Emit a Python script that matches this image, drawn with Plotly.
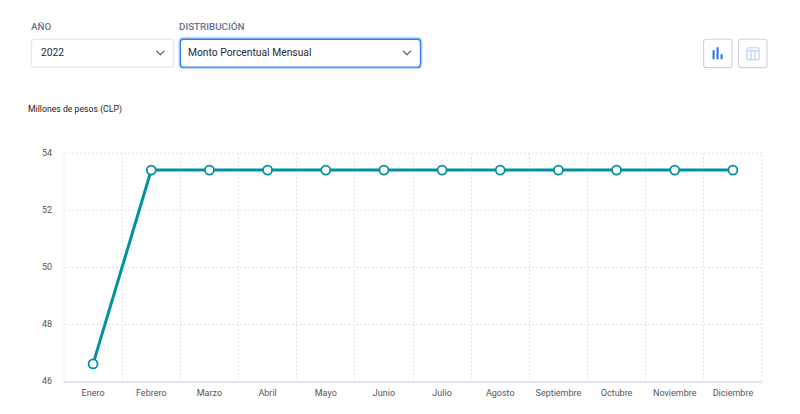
import plotly.graph_objects as go

months = ["Enero", "Febrero", "Marzo", "Abril", "Mayo", "Junio", "Julio",
          "Agosto", "Septiembre", "Octubre", "Noviembre", "Diciembre"]
values = [46.6, 53.4, 53.4, 53.4, 53.4, 53.4, 53.4, 53.4, 53.4, 53.4, 53.4, 53.4]
y_ticks = [46, 48, 50, 52, 54]

W, H = 800, 414
L, R, T, B = 63.5, 762.5, 153, 381.5
FONT = "Roboto, sans-serif"
GRID = "#e3e4e8"


def px(x):
    return (x - L) / (R - L)


def py(y):
    return (B - y) / (B - T)


def rrect(x0, y0, x1, y1, r, line, width=1, fill="rgba(0,0,0,0)"):
    a, b, c, d = px(x0), px(x1), py(y0), py(y1)
    rx, ry = r / (R - L), r / (B - T)
    path = (f"M{a+rx},{c} L{b-rx},{c} Q{b},{c} {b},{c-ry} L{b},{d+ry} Q{b},{d} {b-rx},{d} "
            f"L{a+rx},{d} Q{a},{d} {a},{d+ry} L{a},{c-ry} Q{a},{c} {a+rx},{c} Z")
    return dict(type="path", xref="paper", yref="paper", path=path, fillcolor=fill,
                line=dict(color=line, width=width), layer="above")


def seg(pts, color, width=1.3):
    d = "M" + " L".join(f"{px(x)},{py(y)}" for x, y in pts)
    return dict(type="path", xref="paper", yref="paper", path=d,
                line=dict(color=color, width=width), layer="above")


def box(x0, y0, x1, y1, color):
    return dict(type="rect", xref="paper", yref="paper", x0=px(x0), x1=px(x1), y0=py(y0), y1=py(y1),
                fillcolor=color, line=dict(width=0), layer="above")


def text(x, y, s, size, color, weight=400):
    return dict(xref="paper", yref="paper", x=px(x - 2), y=py(y), text=s, showarrow=False,
                xanchor="left", yanchor="middle",
                font=dict(size=size, color=color, family=FONT, weight=weight))


def frame(x0, y0, x1, y1):
    return dict(type="line", xref="paper", yref="paper", x0=x0, y0=y0, x1=x1, y1=y1, layer="below",
                line=dict(color=GRID, width=1, dash="2px,2px"))


shapes = [
    frame(0, 1, 1, 1),
    frame(0, 0, 0, 1),
    frame(1, 0, 1, 1),
    rrect(31, 39, 173.5, 67, 3, "#e2e8f0", 1.2, "#ffffff"),
    rrect(179.5, 38, 421, 67.5, 4, "#bfdbfe", 3, "#ffffff"),
    rrect(180, 39, 420.5, 67, 3, "#2f7fe8", 1.3, "#ffffff"),
    seg([(156, 50.5), (160, 54.5), (164, 50.5)], "#5f6f86"),
    seg([(403, 50.5), (407, 54.5), (411, 50.5)], "#5f6f86"),
    rrect(704, 39, 732.5, 67.5, 3, "#cbd5e1", 1.2, "#ffffff"),
    rrect(739, 39, 767.5, 67.5, 3, "#cbd5e1", 1.2, "#ffffff"),
    box(713, 50, 715, 59, "#1f6ff0"),
    box(717, 47, 719, 59, "#1f6ff0"),
    box(721, 54, 723, 59, "#1f6ff0"),
    rrect(747.5, 47.5, 759.5, 59.5, 1, "#bcd3fb", 1.2),
    seg([(747.5, 50.5), (759.5, 50.5)], "#bcd3fb", 1.2),
    seg([(751.5, 50.5), (751.5, 59.5)], "#bcd3fb", 1.2),
    seg([(755.5, 50.5), (755.5, 59.5)], "#bcd3fb", 1.2),
]

annotations = [
    text(30.5, 26.5, "AÑO", 9.8, "#64748b", 500),
    text(179, 26.5, "DISTRIBUCIÓN", 9.8, "#64748b", 500),
    text(40, 52.5, "2022", 10.3, "#1e293b"),
    text(188, 52.5, "Monto Porcentual Mensual", 10.3, "#1e293b"),
    text(27.5, 109, "Millones de pesos (CLP)", 8.7, "#222222"),
]

fig = go.Figure(go.Scatter(
    x=months, y=values, mode="lines+markers", cliponaxis=False,
    line=dict(color="#00929f", width=3),
    marker=dict(size=9, color="#ffffff", line=dict(color="#00929f", width=1.8)),
    hoverinfo="x+y",
))

fig.update_layout(
    width=W, height=H, autosize=False,
    margin=dict(l=L, r=W - R, t=T, b=H - B, pad=0),
    paper_bgcolor="#ffffff", plot_bgcolor="#ffffff",
    showlegend=False, shapes=shapes, annotations=annotations,
    font=dict(family=FONT, size=9, color="#555555"),
)
fig.update_xaxes(
    type="category", categoryorder="array", categoryarray=months, range=[-0.5, 11.5],
    tickson="boundaries", ticks="", showgrid=True, gridcolor=GRID, griddash="2px,2px", gridwidth=1,
    showline=True, linecolor="#dfe3f3", linewidth=2, zeroline=False, ticklabelstandoff=2,
    tickfont=dict(size=9, color="#555555"),
)
fig.update_yaxes(
    range=[46, 54], tickvals=y_ticks, ticktext=[str(v) for v in y_ticks], ticks="",
    showgrid=True, gridcolor=GRID, griddash="2px,2px", gridwidth=1,
    showline=False, zeroline=False, ticklabelstandoff=11,
    tickfont=dict(size=9, color="#555555"),
)

fig.write_html("out.html", config=dict(displayModeBar=False),
               post_script="document.body.style.margin='0';")
